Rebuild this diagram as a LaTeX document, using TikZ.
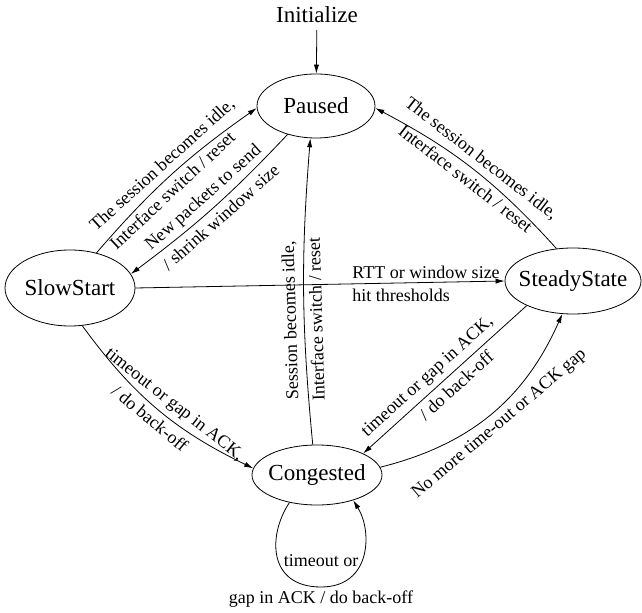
\documentclass[tikz,border=0pt]{standalone}
\usepackage{fontspec}
\setmainfont{Liberation Serif}
\usepackage{tikz}
\usetikzlibrary{shapes.geometric}
\usetikzlibrary{arrows.meta}
\tikzstyle{state}=[ellipse, draw=black, inner sep=0pt, font=\fontsize{11.5}{13}\selectfont]
\tikzstyle{lbl}=[font=\fontsize{9}{10.5}\selectfont, inner sep=2.5pt]
\tikzstyle{trans}=[-{Latex[length=4.5pt,width=2.6pt]}]
\newcommand{\stname}[1]{\makebox[0pt]{#1}}

\begin{document}
\begin{tikzpicture}[x=0.5pt, y=-0.5pt]
    \useasboundingbox (0,0) rectangle (642,613);

    %states
    \node [font=\fontsize{11.5}{13}\selectfont] (init) at (317,15) {Initialize};
    \node [state, minimum width=59pt, minimum height=32pt] (paused) at (316,106) {\stname{Paused}};
    \node [state, minimum width=65pt, minimum height=38pt] (slowstart) at (70,288) {\stname{SlowStart}};
    \node [state, minimum width=68pt, minimum height=33pt] (steady) at (573,281) {\stname{SteadyState}};
    \node [state, minimum width=65pt, minimum height=30pt] (congested) at (317,475) {\stname{Congested}};

    \draw [trans] (init) -- (paused);

    %slowstart <-> paused
    \draw [trans] (slowstart.53) to [bend left=7]
        node [lbl, sloped, above, pos=.5] {The session becomes idle,}
        node [lbl, sloped, below, pos=.45] {Interface switch / reset} (paused.182);
    \draw [trans] (paused.-135) to [bend left=5]
        node [lbl, sloped, above, pos=.5] {New packets to send}
        node [lbl, sloped, below, pos=.5] {/ shrink window size} (slowstart.13);

    %slowstart -> steady
    \draw [trans] (slowstart.east) --
        node [lbl, pos=.573, anchor=south west] {RTT or window size}
        node [lbl, pos=.573, anchor=north west] {hit thresholds} (steady.west);

    %steady -> paused
    \draw [trans] (steady.117) to [bend right=10]
        node [lbl, sloped, above] {The session becomes idle,}
        node [lbl, sloped, below] {Interface switch / reset} (paused.-2);

    %congested -> paused
    \draw [trans] (congested.98) to [bend left=5]
        node [lbl, sloped, allow upside down, above, pos=.4] {Session becomes idle,}
        node [lbl, sloped, allow upside down, below, pos=.4] {Interface switch / reset} (paused.-100);

    %steady <-> congested
    \draw [trans] (steady.-152) --
        node [lbl, sloped, above, pos=.55] {timeout or gap in ACK,}
        node [lbl, sloped, below, pos=.48] {/ do back-off} (congested.25);
    \draw [trans] (congested.7) to [bend right=26]
        node [lbl, sloped, below] {No more time-out or ACK gap} (steady.-108);

    %slowstart -> congested
    \draw [trans] (slowstart.-72) to [bend right=14]
        node [lbl, sloped, above, pos=.55] {timeout or gap in ACK,}
        node [lbl, sloped, below, pos=.5] {/ do back-off} (congested.174);

    %loop
    \coordinate (loopbot) at (321,587);
    \draw [trans] (congested.-135) .. controls +(-22,33) and +(-53,0) .. (loopbot)
        node [lbl, above=7.5pt] {timeout or}
        node [lbl, below=-1pt] {gap in ACK / do back-off}
        .. controls +(51,0) and +(19,30) .. (congested.-35);

\end{tikzpicture}
\end{document}
